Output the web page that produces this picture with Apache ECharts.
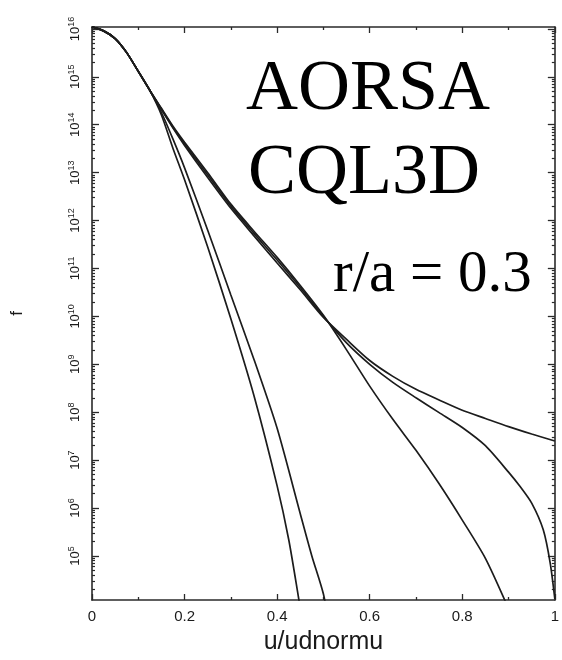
<!DOCTYPE html>
<html>
<head>
<meta charset="utf-8">
<script src="https://cdn.jsdelivr.net/npm/echarts@6/dist/echarts.min.js"></script>
<style>
html,body{margin:0;padding:0;background:#fff;}
#c{width:562px;height:660px;}
</style>
</head>
<body>
<div id="c"></div>
<script>
// ---- data ----
const uHead = [0, 0.025, 0.05, 0.075, 0.1, 0.125];
const fHead = [1.1e16, 9.1e15, 6.3e15, 3.2e15, 1.3e15, 5.2e14];

const uA = [0.15, 0.175, 0.2, 0.25, 0.3, 0.35, 0.4, 0.425, 0.445, 0.46];
const fA = [1.6e14, 3.2e13, 7.1e12, 2.8e11, 8.9e9, 2.2e8, 2.9e6, 2.2e5, 1.6e4, 2.0e3];

const uB = [0.15, 0.175, 0.2, 0.25, 0.3, 0.35, 0.4, 0.45, 0.475, 0.5, 0.515];
const fB = [1.8e14, 5.0e13, 1.26e13, 6.3e11, 2.8e10, 1.26e9, 4.6e7, 7.6e5, 1.0e5, 1.6e4, 2.5e3];

const uC = [0.15, 0.175, 0.2, 0.25, 0.3, 0.35, 0.4, 0.45, 0.5, 0.55, 0.6, 0.65, 0.7, 0.75, 0.8, 0.85, 0.9];
const fC = [2.2e14, 9.3e13, 4.3e13, 1.0e13, 2.2e12, 6.0e11, 1.7e11, 4.4e10, 1.05e10, 2.0e9, 3.5e8, 7.1e7, 1.6e7, 3.2e6, 5.6e5, 8.9e4, 7.9e3];

const uD = [0.15, 0.175, 0.2, 0.25, 0.3, 0.35, 0.4, 0.45, 0.5, 0.55, 0.6, 0.65, 0.7, 0.75, 0.8, 0.85, 0.9, 0.925, 0.95, 0.975, 0.99, 1.0];
const fD = [2.1e14, 8.9e13, 4.0e13, 8.9e12, 2.0e12, 5.4e11, 1.5e11, 4.0e10, 1.0e10, 2.8e9, 1.0e9, 4.2e8, 2.0e8, 9.8e7, 4.8e7, 2.0e7, 5.6e6, 2.8e6, 1.26e6, 3.5e5, 7.1e4, 1.26e4];

const uE = [0.15, 0.175, 0.2, 0.25, 0.3, 0.35, 0.4, 0.45, 0.5, 0.55, 0.6, 0.65, 0.7, 0.75, 0.8, 0.85, 0.9, 0.95, 1.0];
const fE = [2.1e14, 8.5e13, 3.7e13, 7.9e12, 1.8e12, 4.8e11, 1.3e11, 3.6e10, 9.5e9, 3.3e9, 1.2e9, 5.6e8, 3.0e8, 1.8e8, 1.1e8, 7.4e7, 5.0e7, 3.5e7, 2.5e7];

const xTickLabels = [0, 0.2, 0.4, 0.6, 0.8, 1];
const yDecades = [5, 6, 7, 8, 9, 10, 11, 12, 13, 14, 15, 16];
const annotations = ['AORSA', 'CQL3D', 'r/a = 0.3'];
const xName = 'u/udnormu';
const yName = 'f';

// ---- axis range (exponent space) ----
const yMinExp = 4.08, yMaxExp = 16.04;
const minorExp = [];
for (let d = 4; d <= 16; d++) {
  for (let m = 2; m <= 9; m++) {
    const v = d + Math.log10(m);
    if (v >= yMinExp && v <= yMaxExp) minorExp.push(v);
  }
}

function pairs(us, fs) { return us.map((u, i) => [u, fs[i]]); }
const curves = [[uA, fA], [uB, fB], [uC, fC], [uD, fD], [uE, fE]];

const lineColor = '#1c1c1c';
const frameColor = '#2a2a2a';
const sans = '"Liberation Sans", Arial, Helvetica, sans-serif';
const serif = '"Liberation Serif", "Times New Roman", Times, serif';

const series = curves.map(([us, fs]) => ({
  type: 'line',
  xAxisIndex: 0,
  yAxisIndex: 0,
  showSymbol: false,
  smooth: 0.25,
  clip: true,
  lineStyle: { color: lineColor, width: 1.7 },
  data: pairs(uHead.concat(us), fHead.concat(fs)),
  silent: true,
  animation: false
}));

const yValueBase = {
  type: 'value', min: yMinExp, max: yMaxExp,
  splitLine: { show: false },
  axisLine: { show: false, onZero: false },
  axisLabel: { show: false },
  axisTick: { show: false }
};

const chart = echarts.init(document.getElementById('c'), null, { renderer: 'canvas' });
chart.setOption({
  animation: false,
  backgroundColor: '#fff',
  grid: { left: 92, right: 3, top: 27, bottom: 58, containLabel: false },
  xAxis: [
    {
      type: 'value', min: 0, max: 1, interval: 0.2, position: 'bottom',
      name: xName, nameLocation: 'middle', nameGap: 30,
      nameTextStyle: { fontFamily: sans, fontSize: 25, color: '#1a1a1a' },
      axisLine: { show: true, onZero: false, lineStyle: { color: frameColor, width: 1.6 } },
      axisTick: { show: true, inside: true, length: 6, lineStyle: { color: frameColor, width: 1.3 } },
      minorTick: { show: true, splitNumber: 2, length: 3, lineStyle: { color: frameColor, width: 1.3 } },
      axisLabel: { show: true, margin: 9, fontFamily: sans, fontSize: 15, color: '#1a1a1a',
        customValues: xTickLabels, formatter: v => String(v) },
      splitLine: { show: false }
    },
    {
      type: 'value', min: 0, max: 1, interval: 0.2, position: 'top',
      axisLine: { show: true, onZero: false, lineStyle: { color: frameColor, width: 1.6 } },
      axisTick: { show: true, inside: true, length: 6, lineStyle: { color: frameColor, width: 1.3 } },
      minorTick: { show: true, splitNumber: 2, length: 3, lineStyle: { color: frameColor, width: 1.3 } },
      axisLabel: { show: false },
      splitLine: { show: false }
    }
  ],
  yAxis: [
    {
      type: 'log', logBase: 10, min: Math.pow(10, yMinExp), max: Math.pow(10, yMaxExp),
      show: false, position: 'left',
      axisLine: { onZero: false }, splitLine: { show: false }
    },
    Object.assign({}, yValueBase, {
      position: 'left',
      name: yName, nameLocation: 'middle', nameGap: 66, nameRotate: 90,
      nameTextStyle: { fontFamily: sans, fontSize: 17, color: '#1a1a1a' },
      axisLine: { show: true, onZero: false, lineStyle: { color: frameColor, width: 1.6 } },
      axisTick: { show: true, inside: true, length: 7, customValues: yDecades, lineStyle: { color: frameColor, width: 1.3 } },
      axisLabel: {
        show: true, rotate: 90, margin: 9, customValues: yDecades, color: '#1a1a1a',
        fontFamily: sans,
        formatter: v => '{b|10}{e|' + Math.round(v) + '}',
        rich: {
          b: { fontFamily: sans, fontSize: 13, color: '#1a1a1a' },
          e: { fontFamily: sans, fontSize: 9, color: '#1a1a1a', padding: [0, 0, 7, 0] }
        }
      }
    }),
    Object.assign({}, yValueBase, {
      position: 'left',
      axisTick: { show: true, inside: true, length: 3, customValues: minorExp, lineStyle: { color: frameColor, width: 1.2 } }
    }),
    Object.assign({}, yValueBase, {
      position: 'right',
      axisLine: { show: true, onZero: false, lineStyle: { color: frameColor, width: 1.6 } },
      axisTick: { show: true, inside: true, length: 7, customValues: yDecades, lineStyle: { color: frameColor, width: 1.3 } }
    }),
    Object.assign({}, yValueBase, {
      position: 'right',
      axisTick: { show: true, inside: true, length: 3, customValues: minorExp, lineStyle: { color: frameColor, width: 1.2 } }
    })
  ],
  graphic: [
    { type: 'text', left: 246, top: 54, silent: true,
      style: { text: annotations[0], font: '72px ' + serif, fill: '#000' } },
    { type: 'text', left: 248, top: 138, silent: true,
      style: { text: annotations[1], font: '72px ' + serif, fill: '#000' } },
    { type: 'text', left: 333, top: 246, silent: true,
      style: { text: annotations[2], font: '59px ' + serif, fill: '#000' } }
  ],
  series: series
});
</script>
</body>
</html>
